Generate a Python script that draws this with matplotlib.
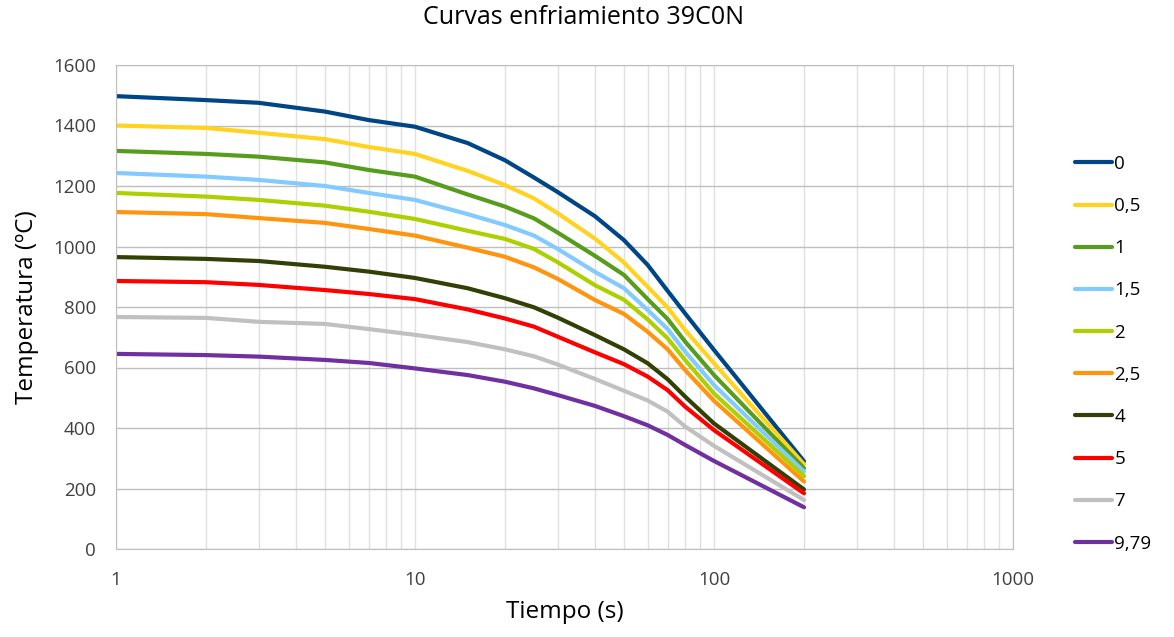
import matplotlib
matplotlib.use("Agg")
import matplotlib.pyplot as plt
from matplotlib.ticker import FixedLocator, NullFormatter, LogLocator

plt.rcParams['font.family'] = ['Open Sans', 'DejaVu Sans']

# tiempos de lectura (s)
tiempo = [1, 2, 3, 5, 7, 10, 15, 20, 25, 30, 40, 50, 60, 70, 80, 100, 200]

# temperatura (ºC) para cada distancia
T_0 = [1497, 1484, 1475, 1446, 1418, 1396, 1342, 1285, 1228, 1180, 1100, 1021, 939, 853, 779, 658, 290]
T_05 = [1400, 1392, 1376, 1355, 1329, 1306, 1250, 1203, 1159, 1110, 1026, 947, 867, 798, 724, 614, 280]
T_1 = [1316, 1306, 1297, 1278, 1253, 1231, 1172, 1132, 1093, 1046, 969, 906, 826, 760, 686, 575, 267]
T_15 = [1243, 1231, 1220, 1200, 1177, 1154, 1107, 1071, 1036, 992, 916, 862, 790, 727, 653, 542, 256]
T_2 = [1177, 1165, 1154, 1135, 1115, 1091, 1052, 1025, 992, 948, 872, 824, 759, 696, 625, 514, 241]
T_25 = [1114, 1107, 1094, 1078, 1058, 1036, 996, 966, 931, 893, 823, 777, 718, 660, 592, 490, 223]
T_4 = [965, 959, 952, 933, 917, 896, 862, 829, 799, 765, 707, 660, 614, 561, 504, 415, 197]
T_5 = [886, 882, 873, 856, 843, 826, 792, 762, 735, 702, 650, 611, 570, 525, 471, 393, 184]
T_7 = [767, 764, 751, 744, 727, 708, 684, 660, 637, 610, 562, 523, 491, 454, 405, 341, 162]
T_979 = [645, 641, 636, 625, 615, 597, 575, 553, 531, 509, 473, 439, 409, 377, 344, 291, 138]

series = [T_0, T_05, T_1, T_15, T_2, T_25, T_4, T_5, T_7, T_979]
etiquetas = ['0', '0,5', '1', '1,5', '2', '2,5', '4', '5', '7', '9,79']
colores = ['#004586', '#FFD320', '#579D1C', '#83CAFF', '#AECF00',
           '#FF950E', '#314004', '#FF0000', '#C0C0C0', '#7030A0']

fig = plt.figure(figsize=(11.74, 6.37), dpi=100)
ax = fig.add_axes([116/1174, 1-549/637, (1013-116)/1174, (549-65)/637])

for T, lab, c in zip(series, etiquetas, colores):
    ax.plot(tiempo, T, color=c, lw=3, label=lab, solid_capstyle='round',
            solid_joinstyle='round')

ax.set_xscale('log')
ax.set_xlim(1, 1000)
ax.set_ylim(0, 1600)
ax.set_yticks(range(0, 1601, 200))
ax.xaxis.set_major_locator(FixedLocator([1, 10, 100, 1000]))
ax.set_xticklabels(['1', '10', '100', '1000'])
ax.xaxis.set_minor_locator(LogLocator(base=10, subs=range(2, 10)))
ax.xaxis.set_minor_formatter(NullFormatter())

ax.grid(axis='y', which='major', color='#BFBFBF', lw=1)
ax.grid(axis='x', which='both', color='#E0E0E0', lw=1)
ax.set_axisbelow(True)
ax.tick_params(which='both', length=0, labelsize=13.5, colors='#404040')
ax.tick_params(axis='x', pad=16)
ax.tick_params(axis='y', pad=14.5)
for s in ax.spines.values():
    s.set_color('#BFBFBF')

ax.set_xlabel('Tiempo (s)', fontsize=17.5, labelpad=8)
ax.set_ylabel('Temperatura (ºC)', fontsize=17.5, labelpad=10)
fig.text(0.497, 1-18/637, 'Curvas enfriamiento 39C0N', ha='center', va='center', fontsize=18)

fig.legend(loc='upper left', bbox_to_anchor=(1058/1174, 1-138/637), frameon=False,
           fontsize=13.5, handlelength=2.0, handletextpad=0.1, labelspacing=1.29)

fig.savefig('out.png', dpi=100)
